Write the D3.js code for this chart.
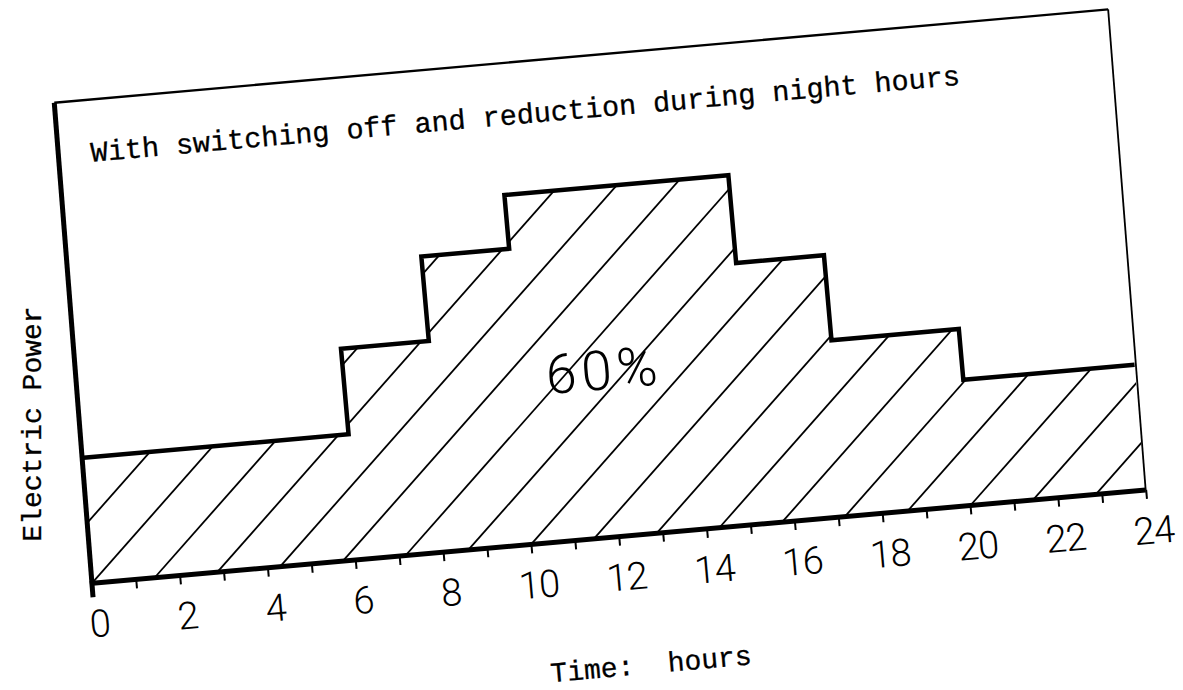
<!DOCTYPE html>
<html><head><meta charset="utf-8">
<script src="https://cdn.jsdelivr.net/npm/d3@7"></script>
<style>body{margin:0;background:#fff;} svg{display:block;background:#fff}</style>
</head><body>
<script>
// ---- data ----
const stepHours = [0, 6.1, 8.1, 10.1, 15.2, 17.2, 20.1, 24];   // step boundaries (h)
const stepPower = [26.1, 43.9, 61.5, 72.7, 54.4, 36.7, 26.1];  // level (% of frame height)
const minorTicks = d3.range(0, 25, 1);
const tickLabels = [0, 2, 4, 6, 8, 10, 12, 14, 16, 18, 20, 22, 24];
const titleText = "With switching off and reduction during night hours";
const yAxisText = "Electric Power";
const xAxisText = "Time:  hours";
const shareText = "60%";

// ---- layout ----
const W = 1183, H = 690;
const originX = 91.8, originY = 583.3, angle = -5.06;
const plotW = 1058, plotH = 482;
const monoFont = "'Liberation Mono', 'Courier New', monospace";
const numFont = "Roboto, 'DejaVu Sans', sans-serif";

const svg = d3.select("body").append("svg").attr("width", W).attr("height", H);
svg.append("rect").attr("width", W).attr("height", H).attr("fill", "#fff");

const x = d3.scaleLinear().domain([0, 24]).range([0, plotW]);
const y = d3.scaleLinear().domain([0, 100]).range([0, -plotH]);

const g = svg.append("g").attr("transform", `translate(${originX},${originY}) rotate(${angle})`);

const pts = stepHours.map((h, i) => ({h, v: stepPower[Math.min(i, stepPower.length - 1)]}));

// clip to area under step curve
const area = d3.area().curve(d3.curveStepAfter).x(d => x(d.h)).y0(y(0)).y1(d => y(d.v));
svg.append("defs").append("clipPath").attr("id", "under")
  .append("path").attr("d", area(pts));

// hatch
const hatchSpacing = 63, hatchAngle = 43.5 * Math.PI / 180, hatchLen = 700;
const hatch = g.append("g").attr("clip-path", "url(#under)");
hatch.selectAll("line").data(d3.range(-1, 20)).join("line")
  .attr("x1", k => k * hatchSpacing)
  .attr("y1", 0)
  .attr("x2", k => k * hatchSpacing + hatchLen * Math.cos(hatchAngle))
  .attr("y2", -hatchLen * Math.sin(hatchAngle))
  .attr("stroke", "#000").attr("stroke-width", 1.8);

// frame: top and right thin (slightly skewed like the scan)
const skewTop = 5;
g.append("line").attr("x1", x(0) + skewTop).attr("y1", y(100)).attr("x2", x(24) + skewTop).attr("y2", y(100))
  .attr("stroke", "#000").attr("stroke-width", 2.4);
g.append("line").attr("x1", x(24) + skewTop).attr("y1", y(100)).attr("x2", x(24)).attr("y2", y(0))
  .attr("stroke", "#000").attr("stroke-width", 1.8);

// step outline
const line = d3.line().curve(d3.curveStepAfter).x(d => x(d.h)).y(d => y(d.v));
g.append("path").attr("d", line(pts)).attr("fill", "none")
  .attr("stroke", "#000").attr("stroke-width", 4.5).attr("stroke-linejoin", "miter");

// left axis thick
g.append("line").attr("x1", x(0)).attr("y1", 14).attr("x2", x(0) + skewTop).attr("y2", y(100))
  .attr("stroke", "#000").attr("stroke-width", 5);

// minor ticks
const minorAxis = d3.axisBottom(x).tickValues(minorTicks).tickSize(9).tickSizeOuter(0).tickFormat("");
const ma = g.append("g").call(minorAxis);
ma.select(".domain").remove();
ma.selectAll(".tick line").attr("stroke", "#000").attr("stroke-width", 2);

// labels
const labelAxis = d3.axisBottom(x).tickValues(tickLabels).tickSize(0).tickSizeOuter(0).tickFormat(d3.format("d"));
const la = g.append("g").call(labelAxis);
la.select(".domain").remove();
la.selectAll(".tick text")
  .attr("y", 54).attr("dy", 0).attr("dx", 4)
  .attr("font-family", numFont).attr("font-weight", 300).attr("font-size", 38)
  .attr("letter-spacing", -1).attr("fill", "#000");

// baseline thick
g.append("line").attr("x1", x(0) - 2).attr("y1", 0).attr("x2", x(24)).attr("y2", 0)
  .attr("stroke", "#000").attr("stroke-width", 5);

// title
g.append("text").attr("x", 37).attr("y", -420)
  .attr("font-family", monoFont).attr("font-size", 28.5).attr("fill", "#000")
  .attr("stroke", "#000").attr("stroke-width", 0.3)
  .text(titleText);

// share label
g.append("text").attr("x", x(12)).attr("y", -148).attr("text-anchor", "middle")
  .attr("font-family", numFont).attr("font-weight", 300).attr("font-size", 55)
  .attr("letter-spacing", 5).attr("fill", "#000")
  .text(shareText);

// x axis title
g.append("text").attr("x", 449).attr("y", 139).style("white-space", "pre")
  .attr("font-family", monoFont).attr("font-size", 28).attr("fill", "#000")
  .attr("stroke", "#000").attr("stroke-width", 0.3)
  .text(xAxisText);

// y axis title (vertical)
svg.append("text").attr("transform", "translate(41,424) rotate(-90)").attr("text-anchor", "middle")
  .attr("font-family", monoFont).attr("font-size", 28).attr("fill", "#000")
  .attr("stroke", "#000").attr("stroke-width", 0.3)
  .text(yAxisText);
</script>
</body></html>
